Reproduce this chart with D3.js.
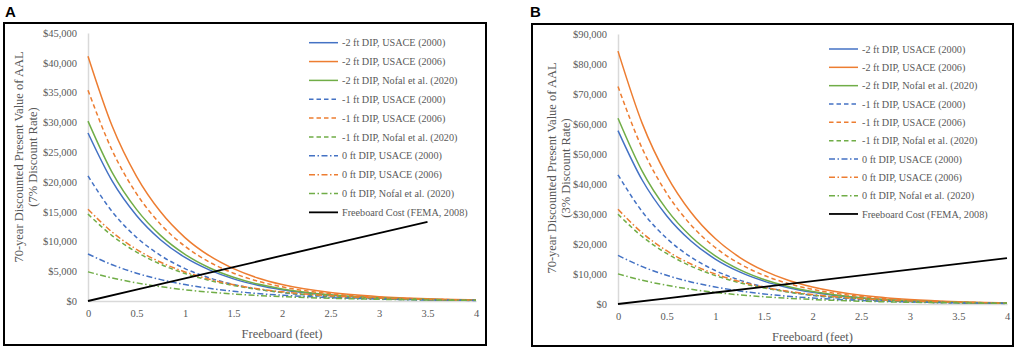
<!DOCTYPE html>
<html>
<head>
<meta charset="utf-8">
<script src="https://cdn.jsdelivr.net/npm/d3@7"></script>
<style>
  body { margin: 0; background: #fff; }
  svg { display: block; font-family: "Liberation Serif", "Times New Roman", serif; }
</style>
</head>
<body>
<svg id="chart" width="1021" height="351"></svg>
<script>
const freeboard = [0, 0.25, 0.5, 0.75, 1, 1.25, 1.5, 1.75, 2, 2.5, 3, 3.5, 4];

const seriesNames = [
    "-2 ft DIP, USACE (2000)", "-2 ft DIP, USACE (2006)", "-2 ft DIP, Nofal et al. (2020)",
    "-1 ft DIP, USACE (2000)", "-1 ft DIP, USACE (2006)", "-1 ft DIP, Nofal et al. (2020)",
    "0 ft DIP, USACE (2000)", "0 ft DIP, USACE (2006)", "0 ft DIP, Nofal et al. (2020)"
];
const costName = "Freeboard Cost (FEMA, 2008)";

// panel A - 7% discount rate
const aM2Usace2000 = [28200, 20120, 14360, 10250, 7310, 5220, 3720, 2660, 1900, 965, 490, 250, 130];
const aM2Usace2006 = [41100, 29330, 20930, 14930, 10650, 7600, 5430, 3870, 2760, 1410, 720, 365, 185];
const aM2Nofal = [30200, 21550, 15380, 10970, 7830, 5590, 3990, 2840, 2030, 1030, 525, 270, 135];
const aM1Usace2000 = [21000, 14990, 10690, 7630, 5440, 3890, 2770, 1980, 1410, 720, 365, 185, 95];
const aM1Usace2006 = [35400, 25260, 18030, 12860, 9180, 6550, 4670, 3330, 2380, 1210, 615, 315, 160];
const aM1Nofal = [14600, 10950, 8220, 6160, 4620, 3470, 2600, 1950, 1460, 825, 465, 260, 150];
const a0Usace2000 = [7900, 6080, 4670, 3590, 2760, 2130, 1640, 1260, 970, 570, 340, 200, 120];
const a0Usace2006 = [15400, 11550, 8670, 6500, 4880, 3660, 2740, 2060, 1540, 870, 490, 275, 155];
const a0Nofal = [4900, 3860, 3050, 2400, 1890, 1490, 1180, 930, 730, 455, 285, 175, 110];
const costFeetA = [0, 0.5, 1, 1.5, 2, 2.5, 3, 3.5];
const costA = [0, 1900, 3800, 5700, 7600, 9500, 11400, 13300];

// panel B - 3% discount rate
const bM2Usace2000 = [57810, 41250, 29440, 21010, 14990, 10700, 7630, 5450, 3900, 1980, 1000, 510, 265];
const bM2Usace2006 = [84300, 60130, 42910, 30610, 21830, 15580, 11130, 7930, 5660, 2890, 1480, 750, 380];
const bM2Nofal = [61910, 44180, 31530, 22490, 16050, 11460, 8180, 5820, 4160, 2110, 1080, 550, 275];
const bM1Usace2000 = [43050, 30730, 21910, 15640, 11150, 7970, 5680, 4060, 2890, 1480, 750, 380, 195];
const bM1Usace2006 = [72500, 51780, 36960, 26360, 18820, 13430, 9570, 6830, 4880, 2480, 1260, 645, 330];
const bM1Nofal = [29930, 22450, 16850, 12630, 9470, 7110, 5330, 4000, 2990, 1690, 955, 535, 310];
const b0Usace2000 = [16200, 12460, 9570, 7360, 5660, 4370, 3360, 2580, 1990, 1170, 700, 410, 245];
const b0Usace2006 = [31570, 23680, 17770, 13330, 10000, 7500, 5620, 4220, 3160, 1780, 1000, 565, 320];
const b0Nofal = [10050, 7910, 6250, 4920, 3870, 3050, 2420, 1910, 1500, 930, 585, 360, 225];
const costFeetB = [0, 0.5, 1, 1.5, 2, 2.5, 3, 3.5, 4];
const costB = [0, 1910, 3830, 5740, 7650, 9560, 11480, 13390, 15300];

const xTicks = [0, 0.5, 1, 1.5, 2, 2.5, 3, 3.5, 4];
const yTicksA = [0, 5000, 10000, 15000, 20000, 25000, 30000, 35000, 40000, 45000];
const yTicksB = [0, 10000, 20000, 30000, 40000, 50000, 60000, 70000, 80000, 90000];

// styles (excel default palette)
const seriesColors = ["#4472c4", "#ed7d31", "#70ad47"];
const dashStyles = [null, "4.5,3", "6,2.5,1.5,2.5"];

const svg = d3.select("#chart");

function drawPanel(p) {
    const g = svg.append("g");

    // panel frame + letter
    g.append("rect")
        .attr("x", p.box[0]).attr("y", p.box[1])
        .attr("width", p.box[2]).attr("height", p.box[3])
        .attr("fill", "none").attr("stroke", "#000").attr("stroke-width", 2);
    g.append("text")
        .attr("x", p.letterX).attr("y", 17)
        .attr("font-family", "Liberation Sans, Arial, sans-serif")
        .attr("font-weight", "bold").attr("font-size", 15)
        .text(p.letter);

    const x = d3.scaleLinear().domain([0, 4]).range([p.left, p.right]);
    const y = d3.scaleLinear().domain([0, p.yMax]).range([p.bottom, p.top]);

    // axes: light gray lines only, no tick marks
    const xAxis = g.append("g")
        .attr("transform", `translate(0,${p.bottom})`)
        .call(d3.axisBottom(x).tickValues(xTicks).tickSize(0).tickPadding(8.5).tickFormat(d => d));
    const yAxis = g.append("g")
        .attr("transform", `translate(${p.left},0)`)
        .call(d3.axisLeft(y).tickValues(p.yTicks).tickSize(0).tickPadding(11).tickFormat(d3.format("$,")));
    [xAxis, yAxis].forEach(ax => {
        ax.select(".domain").attr("stroke", "#d9d9d9").attr("stroke-width", 1.5);
        ax.selectAll("text")
            .attr("font-family", "Liberation Serif, Times New Roman, serif")
            .attr("font-size", 10.5).attr("fill", "#595959");
    });

    // axis titles
    g.append("text")
        .attr("x", (p.left + p.right) / 2).attr("y", p.xTitleY)
        .attr("text-anchor", "middle").attr("font-size", 12.5).attr("fill", "#595959")
        .text("Freeboard (feet)");
    const yt = g.append("text")
        .attr("transform", `translate(${p.yTitleX},${p.yTitleMid}) rotate(-90)`)
        .attr("text-anchor", "middle").attr("font-size", 12.5).attr("fill", "#595959");
    yt.append("tspan").attr("x", 0).attr("y", 0).text("70-year Discounted Present Value of AAL");
    yt.append("tspan").attr("x", 0).attr("y", 14).text(p.rateLabel);

    const line = d3.line()
        .x(d => x(d[0]))
        .y(d => y(d[1]))
        .curve(d3.curveMonotoneX);

    p.series.forEach((vals, i) => {
        g.append("path")
            .datum(freeboard.map((f, j) => [f, vals[j]]))
            .attr("d", line)
            .attr("fill", "none")
            .attr("stroke", seriesColors[i % 3])
            .attr("stroke-width", 1.5)
            .attr("stroke-dasharray", dashStyles[Math.floor(i / 3)]);
    });

    g.append("path")
        .datum(p.costFeet.map((f, j) => [f, p.cost[j]]))
        .attr("d", d3.line().x(d => x(d[0])).y(d => y(d[1])))
        .attr("fill", "none").attr("stroke", "#000").attr("stroke-width", 1.8);

    // legend
    const names = seriesNames.concat([costName]);
    names.forEach((name, i) => {
        const ly = p.legY + i * p.legStep;
        g.append("line")
            .attr("x1", p.legX).attr("x2", p.legX + 29)
            .attr("y1", ly).attr("y2", ly)
            .attr("stroke", i < 9 ? seriesColors[i % 3] : "#000")
            .attr("stroke-width", i < 9 ? 1.5 : 1.8)
            .attr("stroke-dasharray", i < 9 ? dashStyles[Math.floor(i / 3)] : null);
        g.append("text")
            .attr("x", p.legX + 33).attr("y", ly).attr("dy", "0.35em")
            .attr("font-size", 10.2).attr("fill", "#595959")
            .text(name);
    });
}

drawPanel({
    letter: "A", letterX: 5, box: [4, 23, 482, 322],
    left: 88, right: 476, top: 33, bottom: 301, yMax: 45000, yTicks: yTicksA,
    xTitleY: 338, yTitleX: 23, yTitleMid: 157, rateLabel: "(7% Discount Rate)",
    series: [aM2Usace2000, aM2Usace2006, aM2Nofal, aM1Usace2000, aM1Usace2006, aM1Nofal,
             a0Usace2000, a0Usace2006, a0Nofal],
    costFeet: costFeetA, cost: costA,
    legX: 309, legY: 42.7, legStep: 18.85
});

drawPanel({
    letter: "B", letterX: 530, box: [532, 24, 481, 322],
    left: 618, right: 1007, top: 34, bottom: 304, yMax: 90000, yTicks: yTicksB,
    xTitleY: 341, yTitleX: 556, yTitleMid: 168, rateLabel: "(3% Discount Rate)",
    series: [bM2Usace2000, bM2Usace2006, bM2Nofal, bM1Usace2000, bM1Usace2006, bM1Nofal,
             b0Usace2000, b0Usace2006, b0Nofal],
    costFeet: costFeetB, cost: costB,
    legX: 829, legY: 49, legStep: 18.33
});
</script>
</body>
</html>
